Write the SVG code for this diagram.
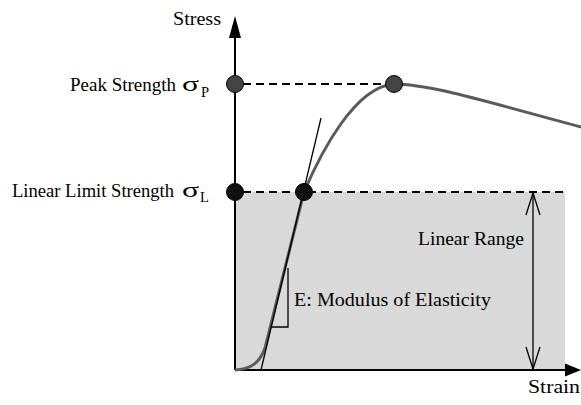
<svg xmlns="http://www.w3.org/2000/svg" width="581" height="405" viewBox="0 0 581 405">
<style>
text{font-family:"Liberation Serif","Times New Roman",serif;fill:#000}
.lbl{font-size:18.5px}
.sig{font-size:22px}
.sub{font-size:14.5px}
.dash{stroke:#000;stroke-width:2;stroke-dasharray:8,5;fill:none}
.axis{stroke:#000;stroke-width:2;fill:none}
.thin{stroke:#000;stroke-width:1.3;fill:none}
.pt{stroke:#000;stroke-width:1}
</style>
<rect id="linear-region" x="235" y="192" width="330" height="178" fill="#d9d9d9"/>
<g id="connectors">
  <line class="dash" x1="243" y1="84" x2="386" y2="84"/>
  <line class="dash" x1="243" y1="192" x2="565" y2="192"/>
  <line class="axis" x1="235" y1="370" x2="235" y2="36"/>
  <polygon points="235,16 229,38 241,38" fill="#000"/>
  <line class="axis" x1="235" y1="370" x2="566" y2="370"/>
  <polygon points="581,370 565,363.5 565,376.5" fill="#000"/>
  <path d="M235,370 C252,369 260,362 265,348 L304,192 C322,150 355,88 393,84 C430,84 480,100 581,127" fill="none" stroke="#5a5a5a" stroke-width="3"/>
  <line class="thin" x1="261" y1="370" x2="321" y2="118" stroke-width="1.6"/>
  <polyline class="thin" points="288,268 288,327 272,327"/>
  <line class="thin" x1="533" y1="193" x2="533" y2="369"/>
  <polyline class="thin" points="526,215 533,193 540,215"/>
  <polyline class="thin" points="526,347 533,369 540,347"/>
</g>
<g id="axis-stress"><text class="lbl" x="173" y="25" textLength="48" lengthAdjust="spacingAndGlyphs">Stress</text></g>
<g id="axis-strain"><text class="lbl" x="528" y="393" textLength="52" lengthAdjust="spacingAndGlyphs">Strain</text></g>
<g id="peak-axis"><circle class="pt" cx="235" cy="84" r="8.5" fill="#444"/>
  <text class="lbl" x="70" y="91" textLength="106" lengthAdjust="spacingAndGlyphs">Peak Strength</text>
  <text class="sig" x="182" y="91" textLength="17" lengthAdjust="spacingAndGlyphs">σ</text>
  <text class="sub" x="201" y="97">P</text></g>
<g id="peak-curve"><circle class="pt" cx="394" cy="84" r="8.5" fill="#444"/></g>
<g id="limit-axis"><circle class="pt" cx="235" cy="192" r="8.5" fill="#111"/>
  <text class="lbl" x="12" y="197" textLength="162" lengthAdjust="spacingAndGlyphs">Linear Limit Strength</text>
  <text class="sig" x="182" y="197" textLength="17" lengthAdjust="spacingAndGlyphs">σ</text>
  <text class="sub" x="200" y="202">L</text></g>
<g id="limit-curve"><circle class="pt" cx="304" cy="192" r="8.5" fill="#111"/></g>
<g id="linear-range"><text class="lbl" x="418" y="245" textLength="106" lengthAdjust="spacingAndGlyphs">Linear Range</text></g>
<g id="modulus"><text class="lbl" x="294" y="306" textLength="197" lengthAdjust="spacingAndGlyphs">E: Modulus of Elasticity</text></g>
</svg>
